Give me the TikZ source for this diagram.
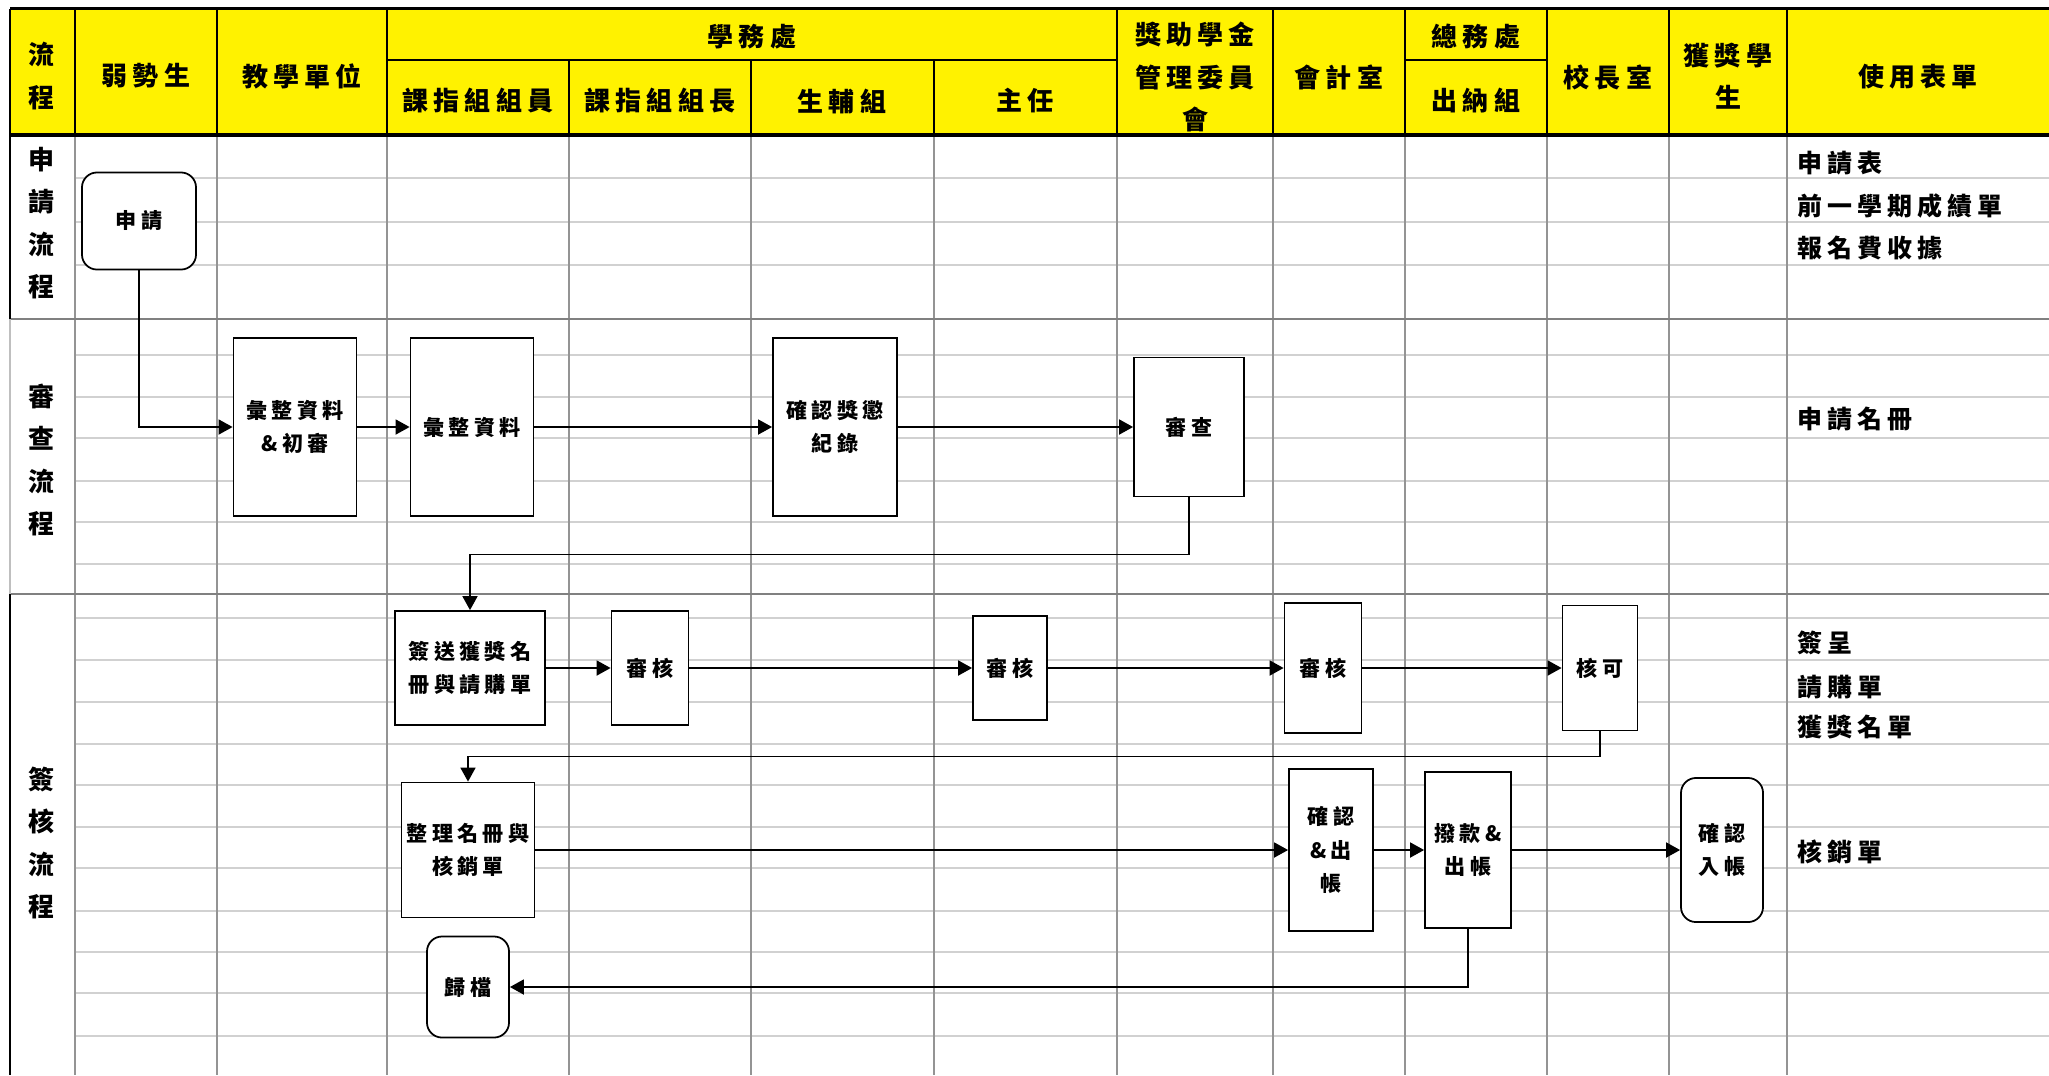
\documentclass[tikz,border=0pt]{standalone}
\usepackage{fontspec}
\setmainfont{Noto Sans CJK TC}[LetterSpace=20]
\usetikzlibrary{arrows.meta}

\begin{document}
\begin{tikzpicture}[x=0.01cm,y=-0.01cm,>={Triangle[length=1.4mm,width=1.5mm]},
        headtext/.style={font=\bfseries\fontsize{7.4}{12}\selectfont,align=center,inner sep=0pt},
        formtext/.style={font=\bfseries\fontsize{7.1}{12}\selectfont,anchor=west,inner sep=0pt},
        gridrow/.style={draw=black!18,line width=0.6pt},
        gridcol/.style={draw=black!42,line width=0.5pt},
        rowsep/.style={draw=black!50,line width=0.6pt},
        headline/.style={draw=black,line width=0.6pt}]
            \useasboundingbox (0,0) rectangle (2049,1075);
            \fill[yellow] (10,8.5) rectangle (2049,135);
            \foreach \y in {178,222,265,355,397,438,481,522,564,618,660,702,744,785,827,868,911,952,993,1036}
                \draw[gridrow] (75,\y) -- (2049,\y);
            \foreach \x in {75,217,387,569,751,934,1117,1273,1405,1547,1669,1787}
                \draw[gridcol] (\x,135) -- (\x,1075);
            \draw[rowsep] (10,319) -- (2049,319);
            \draw[rowsep] (10,594) -- (2049,594);
            \draw[headline] (387,60) -- (1117,60) (1405,60) -- (1547,60);
            \foreach \x in {75,217,387,1117,1273,1405,1547,1669,1787}
                \draw[headline] (\x,8.5) -- (\x,135);
            \foreach \x in {569,751,934}
                \draw[headline] (\x,60) -- (\x,135);
            \draw[line width=1pt] (10,8.5) -- (2049,8.5);
            \draw[line width=0.9pt] (10,135) -- (2049,135);
            \draw[line width=0.7pt] (10,8.5) -- (10,319);
            \draw[draw=black!25,line width=0.7pt] (10,319) -- (10,594);
            \draw[line width=0.7pt] (10,594) -- (10,1075);
            \begin{scope}[every node/.style={headtext}]
                \node (flowhead) at (42,76) {流\\程};
                \node (weak) at (146,76) {弱勢生};
                \node (teach) at (302,76) {教學單位};
                \node (affairs) at (752,37) {學務處};
                \node (clerk) at (478,101) {課指組組員};
                \node (chief) at (660,101) {課指組組長};
                \node (guide) at (842,101) {生輔組};
                \node (dean) at (1025,101) {主任};
                \node (board) at (1195,77) {獎助學金\\管理委員\\會};
                \node (account) at (1339,77) {會計室};
                \node (general) at (1476,37) {總務處};
                \node (cashier) at (1476,101) {出納組};
                \node (president) at (1608,77) {校長室};
                \node (winner) at (1728,76) {獲獎學\\生};
                \node (forms) at (1918,77) {使用表單};
                \node (stage1) at (42,223) {申\\請\\流\\程};
                \node (stage2) at (42,460) {審\\查\\流\\程};
                \node (stage3) at (42,843) {簽\\核\\流\\程};
            \end{scope}
            \begin{scope}[every node/.style={formtext}]
                \node (form1) at (1797,163) {申請表};
                \node (form2) at (1797,206) {前一學期成績單};
                \node (form3) at (1797,248) {報名費收據};
                \node (form4) at (1797,419) {申請名冊};
                \node (form5) at (1797,643) {簽呈};
                \node (form6) at (1797,687) {請購單};
                \node (form7) at (1797,727) {獲獎名單};
                \node (form8) at (1797,852) {核銷單};
            \end{scope}
            \begin{scope}[every node/.style={draw=black,fill=white,line width=0.5pt,align=center,inner sep=0pt,font=\bfseries\fontsize{6}{9.4}\selectfont}]
                \node[rounded corners=0.15cm,minimum width=1.14cm,minimum height=0.97cm] (apply) at (139,221) {申請};
                \node[minimum width=1.23cm,minimum height=1.78cm] (collect1) at (295,427) {彙整資料\\\&初審};
                \node[minimum width=1.23cm,minimum height=1.78cm] (collect2) at (472,427) {彙整資料};
                \node[minimum width=1.24cm,minimum height=1.78cm] (record) at (835,427) {確認獎懲\\紀錄};
                \node[minimum width=1.10cm,minimum height=1.39cm] (review) at (1189,427) {審查};
                \node[minimum width=1.50cm,minimum height=1.14cm] (sign) at (470,668) {簽送獲獎名\\冊與請購單};
                \node[minimum width=0.77cm,minimum height=1.14cm] (check1) at (650,668) {審核};
                \node[minimum width=0.74cm,minimum height=1.04cm] (check2) at (1010,668) {審核};
                \node[minimum width=0.77cm,minimum height=1.30cm] (check3) at (1323,668) {審核};
                \node[minimum width=0.75cm,minimum height=1.25cm] (approve) at (1600,668) {核可};
                \node[minimum width=1.33cm,minimum height=1.35cm] (tidy) at (468,850) {整理名冊與\\核銷單};
                \node[minimum width=0.84cm,minimum height=1.62cm] (confirm) at (1331,850) {確認\\\&出\\帳};
                \node[minimum width=0.86cm,minimum height=1.56cm] (pay) at (1468,850) {撥款\&\\出帳};
                \node[rounded corners=0.15cm,minimum width=0.82cm,minimum height=1.44cm] (receive) at (1722,850) {確認\\入帳};
                \node[rounded corners=0.15cm,minimum width=0.82cm,minimum height=1.01cm] (archive) at (468,987) {歸檔};
            \end{scope}
            \draw[->,line width=0.5pt] (apply) |- (collect1);
            \draw[->,line width=0.5pt] (collect1) -- (collect2);
            \draw[->,line width=0.5pt] (collect2) -- (record);
            \draw[->,line width=0.5pt] (record) -- (review);
            \draw[->,line width=0.5pt] (review.south) -- ++(0,57) -| (sign.north);
            \draw[->,line width=0.5pt] (sign) -- (check1);
            \draw[->,line width=0.5pt] (check1) -- (check2);
            \draw[->,line width=0.5pt] (check2) -- (check3);
            \draw[->,line width=0.5pt] (check3) -- (approve);
            \draw[->,line width=0.5pt] (approve.south) -- ++(0,25) -| (tidy.north);
            \draw[->,line width=0.5pt] (tidy) -- (confirm);
            \draw[->,line width=0.5pt] (confirm) -- (pay);
            \draw[->,line width=0.5pt] (pay) -- (receive);
            \draw[->,line width=0.5pt] (pay.south) |- (archive);
        \end{tikzpicture}
\end{document}
